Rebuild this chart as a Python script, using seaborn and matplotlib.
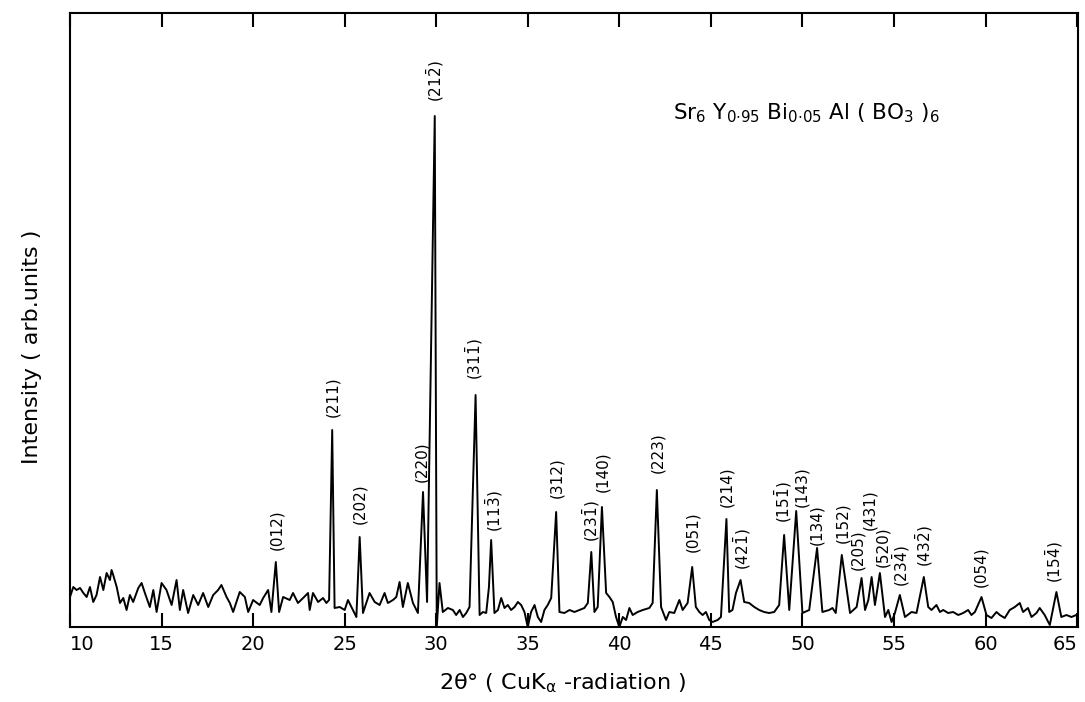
import numpy as np
import pandas as pd
import matplotlib
matplotlib.use("Agg")
import matplotlib.pyplot as plt
import seaborn as sns

# ---- data (2theta in degrees, intensity in arb. units) ----
two_theta = [
    10.00, 10.18, 10.36, 10.55, 10.73, 10.91, 11.09, 11.27, 11.45, 11.64, 11.82, 12.00,
    12.18, 12.27, 12.36, 12.55, 12.73, 12.91, 13.09, 13.27, 13.45, 13.73, 13.91, 14.09,
    14.36, 14.55, 14.73, 15.00, 15.27, 15.55, 15.82, 16.00, 16.18, 16.45, 16.73, 17.00,
    17.27, 17.55, 17.82, 18.09, 18.27, 18.55, 18.73, 18.91, 19.27, 19.55, 19.73, 20.00,
    20.36, 20.55, 20.82, 21.00, 21.24, 21.42, 21.64, 22.00, 22.18, 22.45, 22.73, 23.00,
    23.09, 23.27, 23.55, 23.82, 24.00, 24.15, 24.32, 24.45, 24.73, 25.00, 25.18, 25.45,
    25.64, 25.82, 26.00, 26.36, 26.64, 26.91, 27.18, 27.36, 27.64, 27.82, 28.00, 28.18,
    28.45, 28.73, 29.00, 29.28, 29.50, 29.92, 30.03, 30.18, 30.36, 30.64, 30.91, 31.09,
    31.28, 31.46, 31.64, 31.82, 32.15, 32.37, 32.55, 32.73, 32.88, 33.00, 33.18, 33.37,
    33.55, 33.73, 33.91, 34.09, 34.28, 34.46, 34.64, 34.82, 35.00, 35.18, 35.37, 35.55,
    35.73, 35.91, 36.09, 36.28, 36.55, 36.73, 37.00, 37.28, 37.55, 37.82, 38.09, 38.28,
    38.47, 38.64, 38.82, 39.05, 39.28, 39.46, 39.64, 39.82, 40.00, 40.19, 40.37, 40.55,
    40.73, 41.00, 41.28, 41.64, 41.82, 42.05, 42.28, 42.55, 42.73, 43.00, 43.28, 43.46,
    43.73, 43.98, 44.18, 44.37, 44.55, 44.73, 44.91, 45.09, 45.37, 45.55, 45.85, 46.00,
    46.18, 46.37, 46.62, 46.82, 47.09, 47.37, 47.64, 47.91, 48.18, 48.46, 48.73, 49.00,
    49.28, 49.66, 50.00, 50.37, 50.80, 51.09, 51.46, 51.64, 51.82, 52.15, 52.60, 52.78,
    52.96, 53.23, 53.42, 53.60, 53.78, 53.96, 54.23, 54.51, 54.69, 54.87, 55.05, 55.32,
    55.60, 55.96, 56.23, 56.63, 56.87, 57.05, 57.32, 57.51, 57.69, 57.96, 58.23, 58.51,
    58.78, 59.05, 59.23, 59.42, 59.78, 60.05, 60.32, 60.60, 60.78, 61.05, 61.32, 61.60,
    61.87, 62.05, 62.32, 62.51, 62.78, 62.96, 63.23, 63.51, 63.87, 64.14, 64.42, 64.69,
    64.96,
]
intensity = [
    30, 40, 37, 39, 34, 30, 40, 25, 32, 50, 37, 54,
    47, 57, 52, 40, 24, 29, 17, 32, 25, 39, 44, 34,
    20, 37, 15, 44, 37, 22, 47, 17, 37, 14, 32, 22,
    34, 20, 32, 37, 42, 30, 24, 15, 35, 30, 15, 27,
    22, 29, 37, 15, 65, 15, 30, 27, 34, 24, 29, 34,
    17, 34, 25, 29, 24, 27, 197, 19, 20, 17, 27, 17,
    10, 90, 14, 34, 25, 22, 34, 24, 27, 30, 45, 20,
    44, 24, 14, 135, 25, 511, 0, 44, 15, 19, 17, 12,
    17, 10, 14, 20, 232, 12, 15, 14, 40, 87, 14, 17,
    29, 19, 22, 17, 20, 25, 22, 15, 0, 15, 22, 10,
    5, 17, 22, 29, 115, 15, 14, 17, 15, 17, 19, 24,
    75, 15, 20, 120, 34, 30, 25, 10, 0, 10, 7, 19,
    12, 15, 17, 19, 24, 137, 20, 7, 15, 14, 27, 17,
    24, 60, 20, 15, 12, 15, 7, 5, 7, 10, 108, 15,
    17, 34, 47, 25, 24, 20, 17, 15, 14, 15, 22, 92,
    17, 116, 14, 17, 79, 15, 17, 19, 14, 72, 14, 17,
    20, 49, 17, 27, 50, 22, 54, 10, 17, 5, 14, 32,
    10, 15, 14, 50, 20, 17, 22, 15, 17, 14, 15, 12,
    14, 17, 12, 15, 30, 12, 9, 15, 12, 9, 17, 20,
    24, 15, 19, 10, 14, 19, 12, 2, 35, 10, 12, 10,
    12,
]

# reflection labels: text, 2theta position, intensity at label bottom
hkl_text = [
    "(012)", "(211)", "(202)", "(220)", r"(21$\bar{2}$)", r"(31$\bar{1}$)",
    r"(11$\bar{3}$)", "(312)", r"(23$\bar{1}$)", "(140)", "(223)", "(051)",
    "(214)", r"(42$\bar{1}$)", r"(15$\bar{1}$)", "(143)", "(134)", "(152)",
    "(205)", "(431)", "(520)", r"(23$\bar{4}$)", r"(43$\bar{2}$)", "(054)",
    r"(15$\bar{4}$)",
]
hkl_x = [
    21.29, 24.35, 25.82, 29.20, 29.95, 32.10,
    33.19, 36.57, 38.48, 39.08, 42.08, 43.99,
    45.84, 46.72, 48.97, 49.96, 50.80, 52.22,
    53.02, 53.66, 54.38, 55.39, 56.64, 59.75,
    63.79,
]
hkl_y = [
    77, 210, 103, 145, 525, 247,
    95, 129, 85, 135, 154, 75,
    120, 57, 104, 120, 82, 84,
    57, 97, 60, 40, 60, 40,
    44,
]

x_ticks = [10, 15, 20, 25, 30, 35, 40, 45, 50, 55, 60, 65]

sns.set_theme(style="white")
plt.rcParams["font.family"] = ["DejaVu Sans"]
plt.rcParams["mathtext.default"] = "regular"

df = pd.DataFrame({"two_theta": two_theta, "intensity": intensity})

fig = plt.figure(figsize=(10.85, 7.02), dpi=100)
ax = fig.add_axes([70 / 1085, 75 / 702, 1008 / 1085, 614 / 702])

sns.lineplot(data=df, x="two_theta", y="intensity", ax=ax, color="black",
             linewidth=1.4, estimator=None, sort=False)

ax.set_xlim(10, 65.05)
ax.set_ylim(0, 614)
ax.set_xticks(x_ticks)
ax.set_xticklabels([str(t) for t in x_ticks], fontsize=14)
ax.set_yticks([])
ax.tick_params(axis="x", direction="in", length=10, width=1.5, top=True,
               bottom=True, pad=6, colors="black")
labels = ax.get_xticklabels()
labels[0].set_horizontalalignment("left")
labels[-1].set_horizontalalignment("right")
for s in ax.spines.values():
    s.set_color("black")
    s.set_linewidth(1.5)

for t, x, y in zip(hkl_text, hkl_x, hkl_y):
    ax.text(x, y, t, rotation=90, ha="center", va="bottom", fontsize=11,
            color="black")

ax.text(50.2, 514,
        r"Sr$_{6}$ Y$_{0{\cdot}95}$ Bi$_{0{\cdot}05}$ Al ( BO$_{3}$ )$_{6}$",
        ha="center", va="center", fontsize=15.5, color="black")

ax.set_xlabel(r"2θ° ( CuK$_{\alpha}$ -radiation )", fontsize=16, color="black",
              va="center")
ax.xaxis.set_label_coords(0.489, -0.091)
ax.set_ylabel("Intensity ( arb.units )", fontsize=16, color="black")
ax.yaxis.set_label_coords(-0.028, 0.456)

fig.savefig("out.png", dpi=100)
